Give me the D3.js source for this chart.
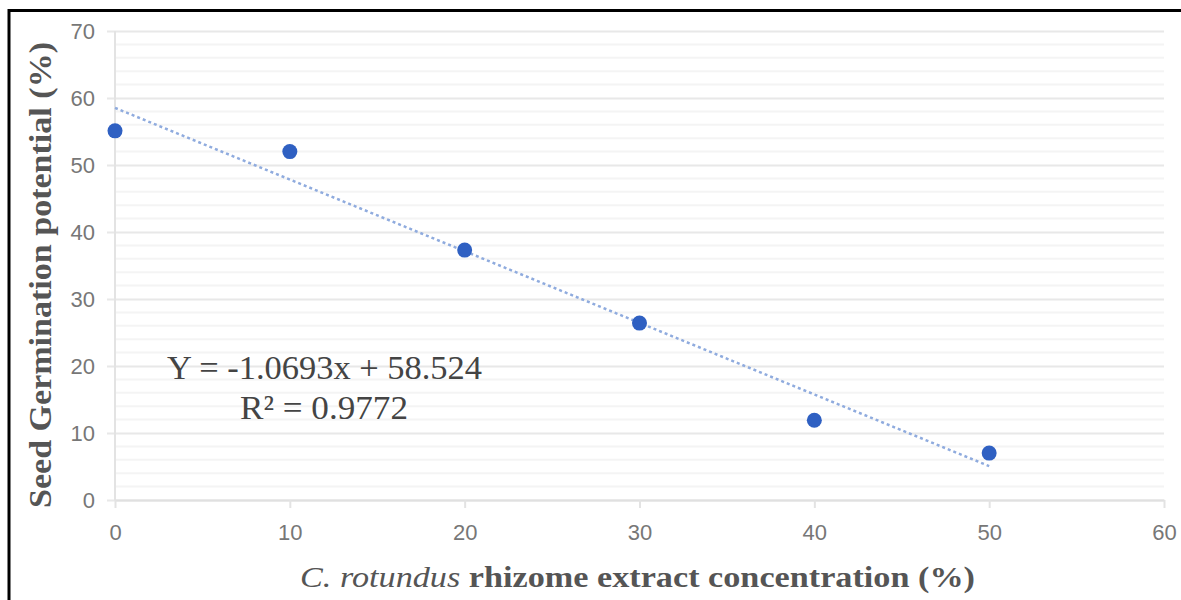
<!DOCTYPE html>
<html>
<head>
<meta charset="utf-8">
<script src="https://cdn.jsdelivr.net/npm/d3@7"></script>
<style>
  body { margin: 0; background: #fff; }
  svg { display: block; }
</style>
</head>
<body>
<svg id="chart" width="1181" height="600"></svg>
<script>
// data
const concentration = [0, 10, 20, 30, 40, 50];
const germination = [55.1, 52.0, 37.3, 26.4, 11.9, 7.0];
const xTicks = [0, 10, 20, 30, 40, 50, 60];
const yTicks = [0, 10, 20, 30, 40, 50, 60, 70];
const yMinorTicks = d3.range(0, 70, 2);
const slope = -1.0693, intercept = 58.524;

const svg = d3.select("#chart");

const x = d3.scaleLinear().domain([0, 60]).range([115, 1164]);
const y = d3.scaleLinear().domain([0, 70]).range([500, 31]);

// frame (top and left edges only are visible)
svg.append("line").attr("x1", 8).attr("x2", 1181).attr("y1", 10.5).attr("y2", 10.5)
  .attr("stroke", "#000").attr("stroke-width", 3);
svg.append("line").attr("x1", 9).attr("x2", 9).attr("y1", 9).attr("y2", 600)
  .attr("stroke", "#000").attr("stroke-width", 3);

// minor grid
svg.append("g").selectAll("line")
  .data(yMinorTicks.filter(d => d % 10 !== 0))
  .enter().append("line")
  .attr("x1", x(0)).attr("x2", x(60))
  .attr("y1", d => y(d)).attr("y2", d => y(d))
  .attr("stroke", "#f4f4f4").attr("stroke-width", 2);

// major grid + y axis
const yAxis = svg.append("g")
  .attr("transform", `translate(${x(0)},0)`)
  .call(d3.axisLeft(y).tickValues(yTicks).tickSize(8).tickPadding(12));
yAxis.select(".domain").remove();
yAxis.selectAll(".tick line").attr("stroke", "#e8e8e8").attr("stroke-width", 2)
  .attr("x1", -8).attr("x2", x(60) - x(0));
yAxis.selectAll(".tick text")
  .attr("fill", "#777").attr("font-family", "Liberation Sans, Arial, sans-serif")
  .attr("font-size", 22);

// vertical axis line
svg.append("line").attr("x1", x(0)).attr("x2", x(0)).attr("y1", y(70)).attr("y2", y(0))
  .attr("stroke", "#e3e3e3").attr("stroke-width", 2);

// x axis
const xAxis = svg.append("g")
  .attr("transform", `translate(0,${y(0)})`)
  .call(d3.axisBottom(x).tickValues(xTicks).tickSize(8).tickSizeOuter(0).tickPadding(16));
xAxis.select(".domain").attr("stroke", "#e0e0e0").attr("stroke-width", 2);
xAxis.selectAll(".tick line").attr("stroke", "#e3e3e3").attr("stroke-width", 2);
xAxis.selectAll(".tick text")
  .attr("fill", "#777").attr("font-family", "Liberation Sans, Arial, sans-serif")
  .attr("font-size", 22);

// trendline
svg.append("line")
  .attr("x1", x(0)).attr("y1", y(intercept))
  .attr("x2", x(50)).attr("y2", y(intercept + slope * 50))
  .attr("stroke", "#8fabde").attr("stroke-width", 2.5)
  .attr("stroke-dasharray", "3,3");

// points
svg.append("g").selectAll("circle")
  .data(concentration)
  .enter().append("circle")
  .attr("cx", (d, i) => x(d))
  .attr("cy", (d, i) => y(germination[i]))
  .attr("r", 7.5)
  .attr("fill", "#2f60c2");

// equation
const serif = "Liberation Serif, Times New Roman, serif";
svg.append("text")
  .attr("x", 167).attr("y", 379)
  .attr("font-family", serif).attr("font-size", 33).attr("fill", "#444")
  .attr("textLength", 315).attr("lengthAdjust", "spacingAndGlyphs")
  .text("Y = -1.0693x + 58.524");
svg.append("text")
  .attr("x", 240).attr("y", 419)
  .attr("font-family", serif).attr("font-size", 33).attr("fill", "#444")
  .attr("textLength", 168).attr("lengthAdjust", "spacingAndGlyphs")
  .text("R² = 0.9772");

// axis titles
svg.append("text")
  .attr("transform", "translate(51,275) rotate(-90)")
  .attr("text-anchor", "middle")
  .attr("font-family", serif)
  .attr("font-weight", "bold").attr("font-size", 32).attr("fill", "#555")
  .attr("textLength", 466).attr("lengthAdjust", "spacingAndGlyphs")
  .text("Seed Germination potential (%)");

const xt = svg.append("text")
  .attr("x", 300).attr("y", 587)
  .attr("font-family", serif)
  .attr("font-weight", "bold").attr("font-size", 30).attr("fill", "#555")
  .attr("textLength", 675).attr("lengthAdjust", "spacingAndGlyphs");
xt.append("tspan").attr("font-style", "italic").attr("font-weight", "normal").text("C. rotundus");
xt.append("tspan").text(" rhizome extract concentration (%)");
</script>
</body>
</html>
